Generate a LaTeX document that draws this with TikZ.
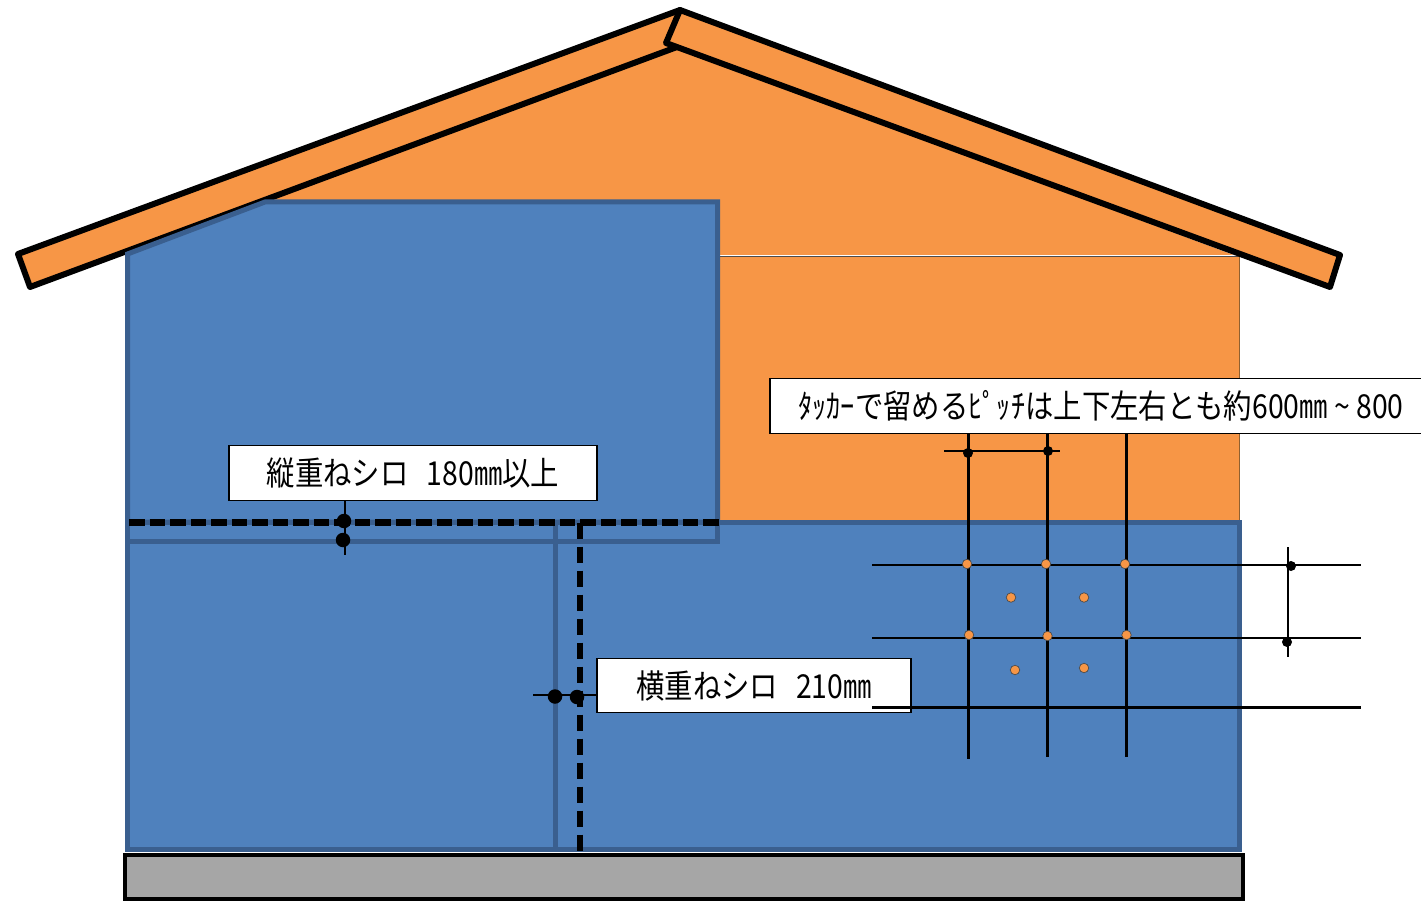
\documentclass[tikz,border=0pt]{standalone}
\usepackage{fontspec}
\newfontfamily\jpfont[FakeStretch=0.86]{Noto Sans CJK JP}
\definecolor{wallorange}{HTML}{F79646}
\definecolor{panelblue}{HTML}{4F81BD}
\definecolor{paneledge}{HTML}{3A5F8F}
\definecolor{basegray}{HTML}{A6A6A6}
\tikzset{
  rafter/.style={draw=black,fill=wallorange,line width=6pt,line join=round},
  panel/.style={draw=paneledge,fill=panelblue,line width=5pt,line join=miter},
  label box/.style={draw=black,fill=white,line width=1.2pt,inner sep=0pt,minimum height=54.5pt,font=\jpfont\fontsize{33}{36}\selectfont,text=black},
  grid thin/.style={draw=black,line width=2.6pt},
  grid vert/.style={draw=black,line width=3pt},
  grid thick/.style={draw=black,line width=3.5pt},
  dim line/.style={draw=black,line width=2pt},
  lap dash h/.style={draw=black,line width=6.5pt,dash pattern=on 15.5pt off 5pt},
  lap dash v/.style={draw=black,line width=6.5pt,dash pattern=on 16pt off 8pt},
  big dot/.style={circle,fill=black,inner sep=0pt,minimum size=14.5pt},
  small dot/.style={circle,fill=black,inner sep=0pt,minimum size=10pt},
  tack/.style={circle,draw=black!70,fill=wallorange,line width=.7pt,inner sep=0pt,minimum size=9.5pt},
}
\begin{document}
\begin{tikzpicture}[x=1pt,y=-1pt]
\useasboundingbox (0,0) rectangle (1421,901);
% wall
\fill[wallorange] (676,47) -- (1239,257) -- (1239,530) -- (127,530) -- (127,254) -- cycle;
\draw[draw=brown!75!black,line width=.8pt] (1239,257) -- (1239,522);
\draw[draw=black!70,line width=.8pt] (718,256.7) -- (1239,256.7);
\draw[draw=white,line width=1pt] (718,255.6) -- (1239,255.6);
% rafters
\draw[rafter] (18,254) -- (30,287) -- (677,47) -- (680,10) -- cycle;
\draw[rafter] (680,10) -- (666,43) -- (1330,287) -- (1340,255) -- cycle;
% panels
\draw[panel] (127.5,254) -- (265,202) -- (717.5,202) -- (717.5,522) -- (127.5,522) -- cycle;
\draw[panel] (127.5,522) rectangle (555,849);
\draw[panel] (555,522) rectangle (1239.5,849);
\draw[draw=paneledge,line width=5pt,line cap=butt] (127.5,541.5) -- (717.5,541.5);
\draw[draw=paneledge,line width=5pt] (717.5,520) -- (717.5,544);
% foundation
\draw[draw=black,fill=basegray,line width=4.5pt] (125,855) rectangle (1243,899.5);
% lap lines
\coordinate (hlapA) at (129,522.5);
\coordinate (hlapB) at (723,522.5);
\coordinate (vlapA) at (580,522.5);
\coordinate (vlapB) at (580,852);
\draw[lap dash h] (hlapA) -- (hlapB);
\draw[lap dash v] (vlapA) -- (vlapB);
% labels
\node[label box,minimum width=368pt] (vlap) at (413,473) {縦重ねシロ\hspace{18pt}180㎜以上};
\node[label box,minimum width=314pt] (hlap) at (754,685.5) {横重ねシロ\hspace{18pt}210㎜};
\node[label box,minimum width=662pt] (pitch) at (1101,406) {ﾀｯｶｰで留めるﾋﾟｯﾁは上下左右とも約600㎜ \char`\~{} 800};
% lap dimensions
\coordinate (vdimEnd) at (345,555);
\node[big dot] (vdotA) at (344,521) {};
\node[big dot] (vdotB) at (343,540) {};
\draw[dim line] (vlap.south -| vdimEnd) -- (vdimEnd);
\coordinate (hdimEnd) at (533,695);
\node[big dot] (hdotA) at (555,696.5) {};
\node[big dot] (hdotB) at (577,697) {};
\draw[dim line] (hdimEnd) -- (hlap.west |- hdimEnd);
% grid
\coordinate (vA) at (968,759);
\coordinate (vB) at (1047,757);
\coordinate (vC) at (1126,757);
\draw[grid vert] (pitch.south -| vA) -- (vA);
\draw[grid vert] (pitch.south -| vB) -- (vB);
\draw[grid vert] (pitch.south -| vC) -- (vC);
\coordinate (hAl) at (872,565); \coordinate (hAr) at (1361,565);
\coordinate (hBl) at (872,638); \coordinate (hBr) at (1361,638);
\coordinate (hCl) at (872,707.3); \coordinate (hCr) at (1361,707.3);
\draw[grid thin] (hAl) -- (hAr);
\draw[grid thin] (hBl) -- (hBr);
\draw[grid thick] (hCl) -- (hCr);
% pitch dimensions
\coordinate (tdL) at (944,451); \coordinate (tdR) at (1060,451);
\draw[dim line] (tdL) -- (tdR);
\node[small dot] (tdotA) at (968,453) {};
\node[small dot] (tdotB) at (1048,451) {};
\coordinate (rdT) at (1288,547); \coordinate (rdB) at (1288,657);
\draw[dim line] (rdT) -- (rdB);
\node[small dot] (rdotA) at (1291,566) {};
\node[small dot] (rdotB) at (1287,642) {};
% tacks
\node[tack] (t1) at (967,564) {};
\node[tack] (t2) at (1046,564) {};
\node[tack] (t3) at (1125,564) {};
\node[tack] (t4) at (1011,597.5) {};
\node[tack] (t5) at (1084,597.5) {};
\node[tack] (t6) at (969,635) {};
\node[tack] (t7) at (1047.5,636) {};
\node[tack] (t8) at (1126.5,635) {};
\node[tack] (t9) at (1015,670) {};
\node[tack] (t10) at (1084,668) {};
\end{tikzpicture}
\end{document}
